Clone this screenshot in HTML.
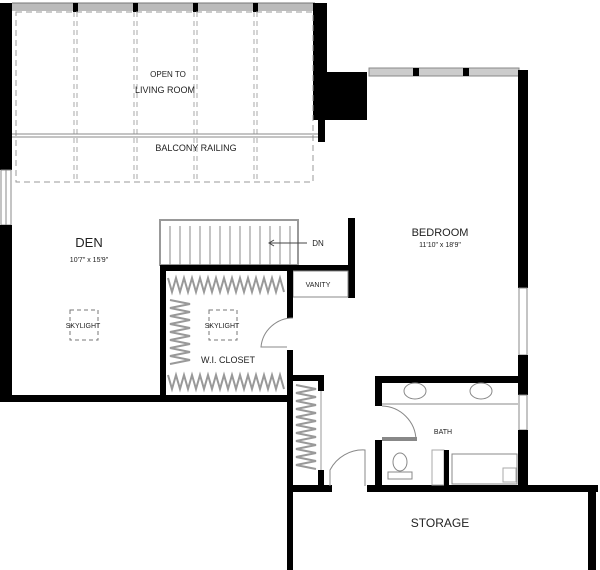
<!DOCTYPE html>
<html><head><meta charset="utf-8"><style>
html,body{margin:0;padding:0;background:#fff;width:600px;height:570px;overflow:hidden}
svg{display:block}
text{font-family:"Liberation Sans",sans-serif;fill:#222;text-anchor:middle}
</style></head><body>
<svg width="600" height="570" viewBox="0 0 600 570">
<!-- top glazing -->
<rect x="12" y="3" width="303" height="8" fill="#bbb"/>
<line x1="12" y1="3" x2="315" y2="3" stroke="#777"/>
<g fill="#000"><rect x="73" y="3" width="5" height="9"/><rect x="133" y="3" width="5" height="9"/><rect x="193" y="3" width="5" height="9"/><rect x="253" y="3" width="5" height="9"/></g>
<!-- left wall -->
<rect x="0" y="3" width="12" height="167" fill="#000"/>
<rect x="1" y="170" width="10" height="55" fill="#fff" stroke="#888"/>
<line x1="6" y1="170" x2="6" y2="225" stroke="#888"/>
<rect x="0" y="225" width="12" height="177" fill="#000"/>
<!-- upper right wall + chimney -->
<rect x="313" y="3" width="14" height="70" fill="#000"/>
<rect x="313" y="72" width="54" height="48" fill="#000"/>
<rect x="318" y="120" width="7" height="22" fill="#000"/>
<!-- dashed open area -->
<rect x="16" y="12" width="297" height="170" fill="none" stroke="#999" stroke-dasharray="6,4"/>
<g stroke="#aaa" stroke-dasharray="5,4">
<line x1="74" y1="12" x2="74" y2="182"/><line x1="77" y1="12" x2="77" y2="182"/>
<line x1="134" y1="12" x2="134" y2="182"/><line x1="137" y1="12" x2="137" y2="182"/>
<line x1="194" y1="12" x2="194" y2="182"/><line x1="197" y1="12" x2="197" y2="182"/>
<line x1="254" y1="12" x2="254" y2="182"/><line x1="257" y1="12" x2="257" y2="182"/>
</g>
<line x1="12" y1="134" x2="318" y2="134" stroke="#888"/>
<line x1="12" y1="137" x2="318" y2="137" stroke="#888"/>
<text x="168" y="77" font-size="8">OPEN TO</text>
<text x="165" y="93" font-size="9">LIVING ROOM</text>
<text x="196" y="151" font-size="9">BALCONY RAILING</text>
<!-- bedroom top windows -->
<rect x="369" y="68" width="150" height="8" fill="#ccc" stroke="#888"/>
<rect x="413" y="68" width="6" height="8" fill="#000"/><rect x="463" y="68" width="6" height="8" fill="#000"/>
<!-- bedroom right wall -->
<rect x="518" y="70" width="10" height="218" fill="#000"/>
<rect x="519" y="288" width="8" height="67" fill="#fff" stroke="#888"/>
<rect x="518" y="355" width="10" height="40" fill="#000"/>
<rect x="519" y="395" width="8" height="35" fill="#fff" stroke="#888"/>
<rect x="518" y="430" width="10" height="62" fill="#000"/>
<!-- stairs -->
<rect x="160" y="220" width="138" height="45" fill="#fff" stroke="#999" stroke-width="2"/>
<g stroke="#888">
<line x1="170" y1="226" x2="170" y2="265"/><line x1="180" y1="226" x2="180" y2="265"/><line x1="190" y1="226" x2="190" y2="265"/><line x1="200" y1="226" x2="200" y2="265"/><line x1="210" y1="226" x2="210" y2="265"/><line x1="220" y1="226" x2="220" y2="265"/><line x1="230" y1="226" x2="230" y2="265"/><line x1="240" y1="226" x2="240" y2="265"/><line x1="250" y1="226" x2="250" y2="265"/><line x1="260" y1="226" x2="260" y2="265"/><line x1="270" y1="226" x2="270" y2="265"/><line x1="280" y1="226" x2="280" y2="265"/><line x1="290" y1="226" x2="290" y2="265"/>
</g>
<line x1="270" y1="243" x2="307" y2="243" stroke="#444"/>
<path d="M274 240 L269 243 L274 246" fill="none" stroke="#444"/>
<text x="318" y="246" font-size="8">DN</text>
<rect x="348" y="218" width="7" height="80" fill="#000"/>
<rect x="160" y="265" width="195" height="6" fill="#000"/>
<rect x="293" y="271" width="55" height="26" fill="#fff" stroke="#888"/>
<text x="318" y="287" font-size="7">VANITY</text>
<!-- closet -->
<rect x="160" y="265" width="6" height="137" fill="#000"/>
<rect x="0" y="395" width="293" height="7" fill="#000"/>
<rect x="287" y="265" width="6" height="53" fill="#000"/>
<rect x="287" y="350" width="6" height="52" fill="#000"/>
<g stroke="#999" stroke-width="2" fill="none">
<path d="M168 278 l4 14 l4 -14 l4 14 l4 -14 l4 14 l4 -14 l4 14 l4 -14 l4 14 l4 -14 l4 14 l4 -14 l4 14 l4 -14 l4 14 l4 -14 l4 14 l4 -14 l4 14 l4 -14 l4 14 l4 -14 l4 14 l4 -14 l4 14 l4 -14 l4 14 l4 -14 l4 14"/>
<path d="M168 375 l4 14 l4 -14 l4 14 l4 -14 l4 14 l4 -14 l4 14 l4 -14 l4 14 l4 -14 l4 14 l4 -14 l4 14 l4 -14 l4 14 l4 -14 l4 14 l4 -14 l4 14 l4 -14 l4 14 l4 -14 l4 14 l4 -14 l4 14 l4 -14 l4 14 l4 -14 l4 14"/>
<path d="M170 300 l20 4 l-20 4 l20 4 l-20 4 l20 4 l-20 4 l20 4 l-20 4 l20 4 l-20 4 l20 4 l-20 4 l20 4 l-20 4 l20 4 l-20 4"/>
<path d="M296 385 l20 4 l-20 4 l20 4 l-20 4 l20 4 l-20 4 l20 4 l-20 4 l20 4 l-20 4 l20 4 l-20 4 l20 4 l-20 4 l20 4 l-20 4 l20 4 l-20 4 l20 4 l-20 4 l20 4"/>
</g>
<path d="M293 318 A32 32 0 0 0 261 347 L287 347" fill="none" stroke="#888"/>
<!-- skylights -->
<rect x="70" y="310" width="28" height="30" fill="none" stroke="#777" stroke-dasharray="4,3"/>
<rect x="209" y="310" width="28" height="30" fill="none" stroke="#777" stroke-dasharray="4,3"/>
<text x="83" y="328" font-size="7">SKYLIGHT</text>
<text x="222" y="328" font-size="7">SKYLIGHT</text>
<text x="228" y="363" font-size="9">W.I. CLOSET</text>
<text x="89" y="247" font-size="13">DEN</text>
<text x="89" y="262" font-size="7">10'7" x 15'9"</text>
<text x="440" y="236" font-size="11">BEDROOM</text>
<text x="440" y="247" font-size="7">11'10" x 18'9"</text>
<!-- linen closet -->
<rect x="288" y="375" width="36" height="6" fill="#000"/>
<rect x="318" y="375" width="6" height="16" fill="#000"/>
<rect x="318" y="470" width="6" height="20" fill="#000"/>
<line x1="321" y1="391" x2="321" y2="470" stroke="#999"/>
<rect x="287" y="375" width="6" height="195" fill="#000"/>
<!-- storage -->
<rect x="287" y="485" width="45" height="7" fill="#000"/>
<rect x="367" y="485" width="231" height="7" fill="#000"/>
<rect x="588" y="485" width="8" height="85" fill="#000"/>
<path d="M330 486 L330 470 A37 37 0 0 1 365 450 L365 486" fill="none" stroke="#888"/>
<text x="440" y="527" font-size="12">STORAGE</text>
<!-- bath -->
<rect x="375" y="376" width="145" height="7" fill="#000"/>
<rect x="375" y="376" width="7" height="30" fill="#000"/>
<rect x="375" y="440" width="7" height="47" fill="#000"/>
<rect x="382" y="437" width="35" height="4" fill="#888"/>
<path d="M382 406 A35 35 0 0 1 416 440" fill="none" stroke="#888"/>
<line x1="382" y1="404" x2="518" y2="404" stroke="#888"/>
<ellipse cx="415" cy="391" rx="11" ry="8" fill="none" stroke="#888"/>
<ellipse cx="481" cy="391" rx="11" ry="8" fill="none" stroke="#888"/>
<text x="443" y="434" font-size="7">BATH</text>
<ellipse cx="400" cy="462" rx="7" ry="9" fill="none" stroke="#888"/>
<rect x="388" y="472" width="24" height="7" fill="none" stroke="#888"/>
<rect x="432" y="450" width="12" height="35" fill="none" stroke="#aaa"/>
<rect x="444" y="450" width="5" height="36" fill="#000"/>
<rect x="452" y="454" width="65" height="30" fill="none" stroke="#888"/>
<rect x="503" y="468" width="13" height="14" fill="none" stroke="#aaa"/>
</svg>
</body></html>
